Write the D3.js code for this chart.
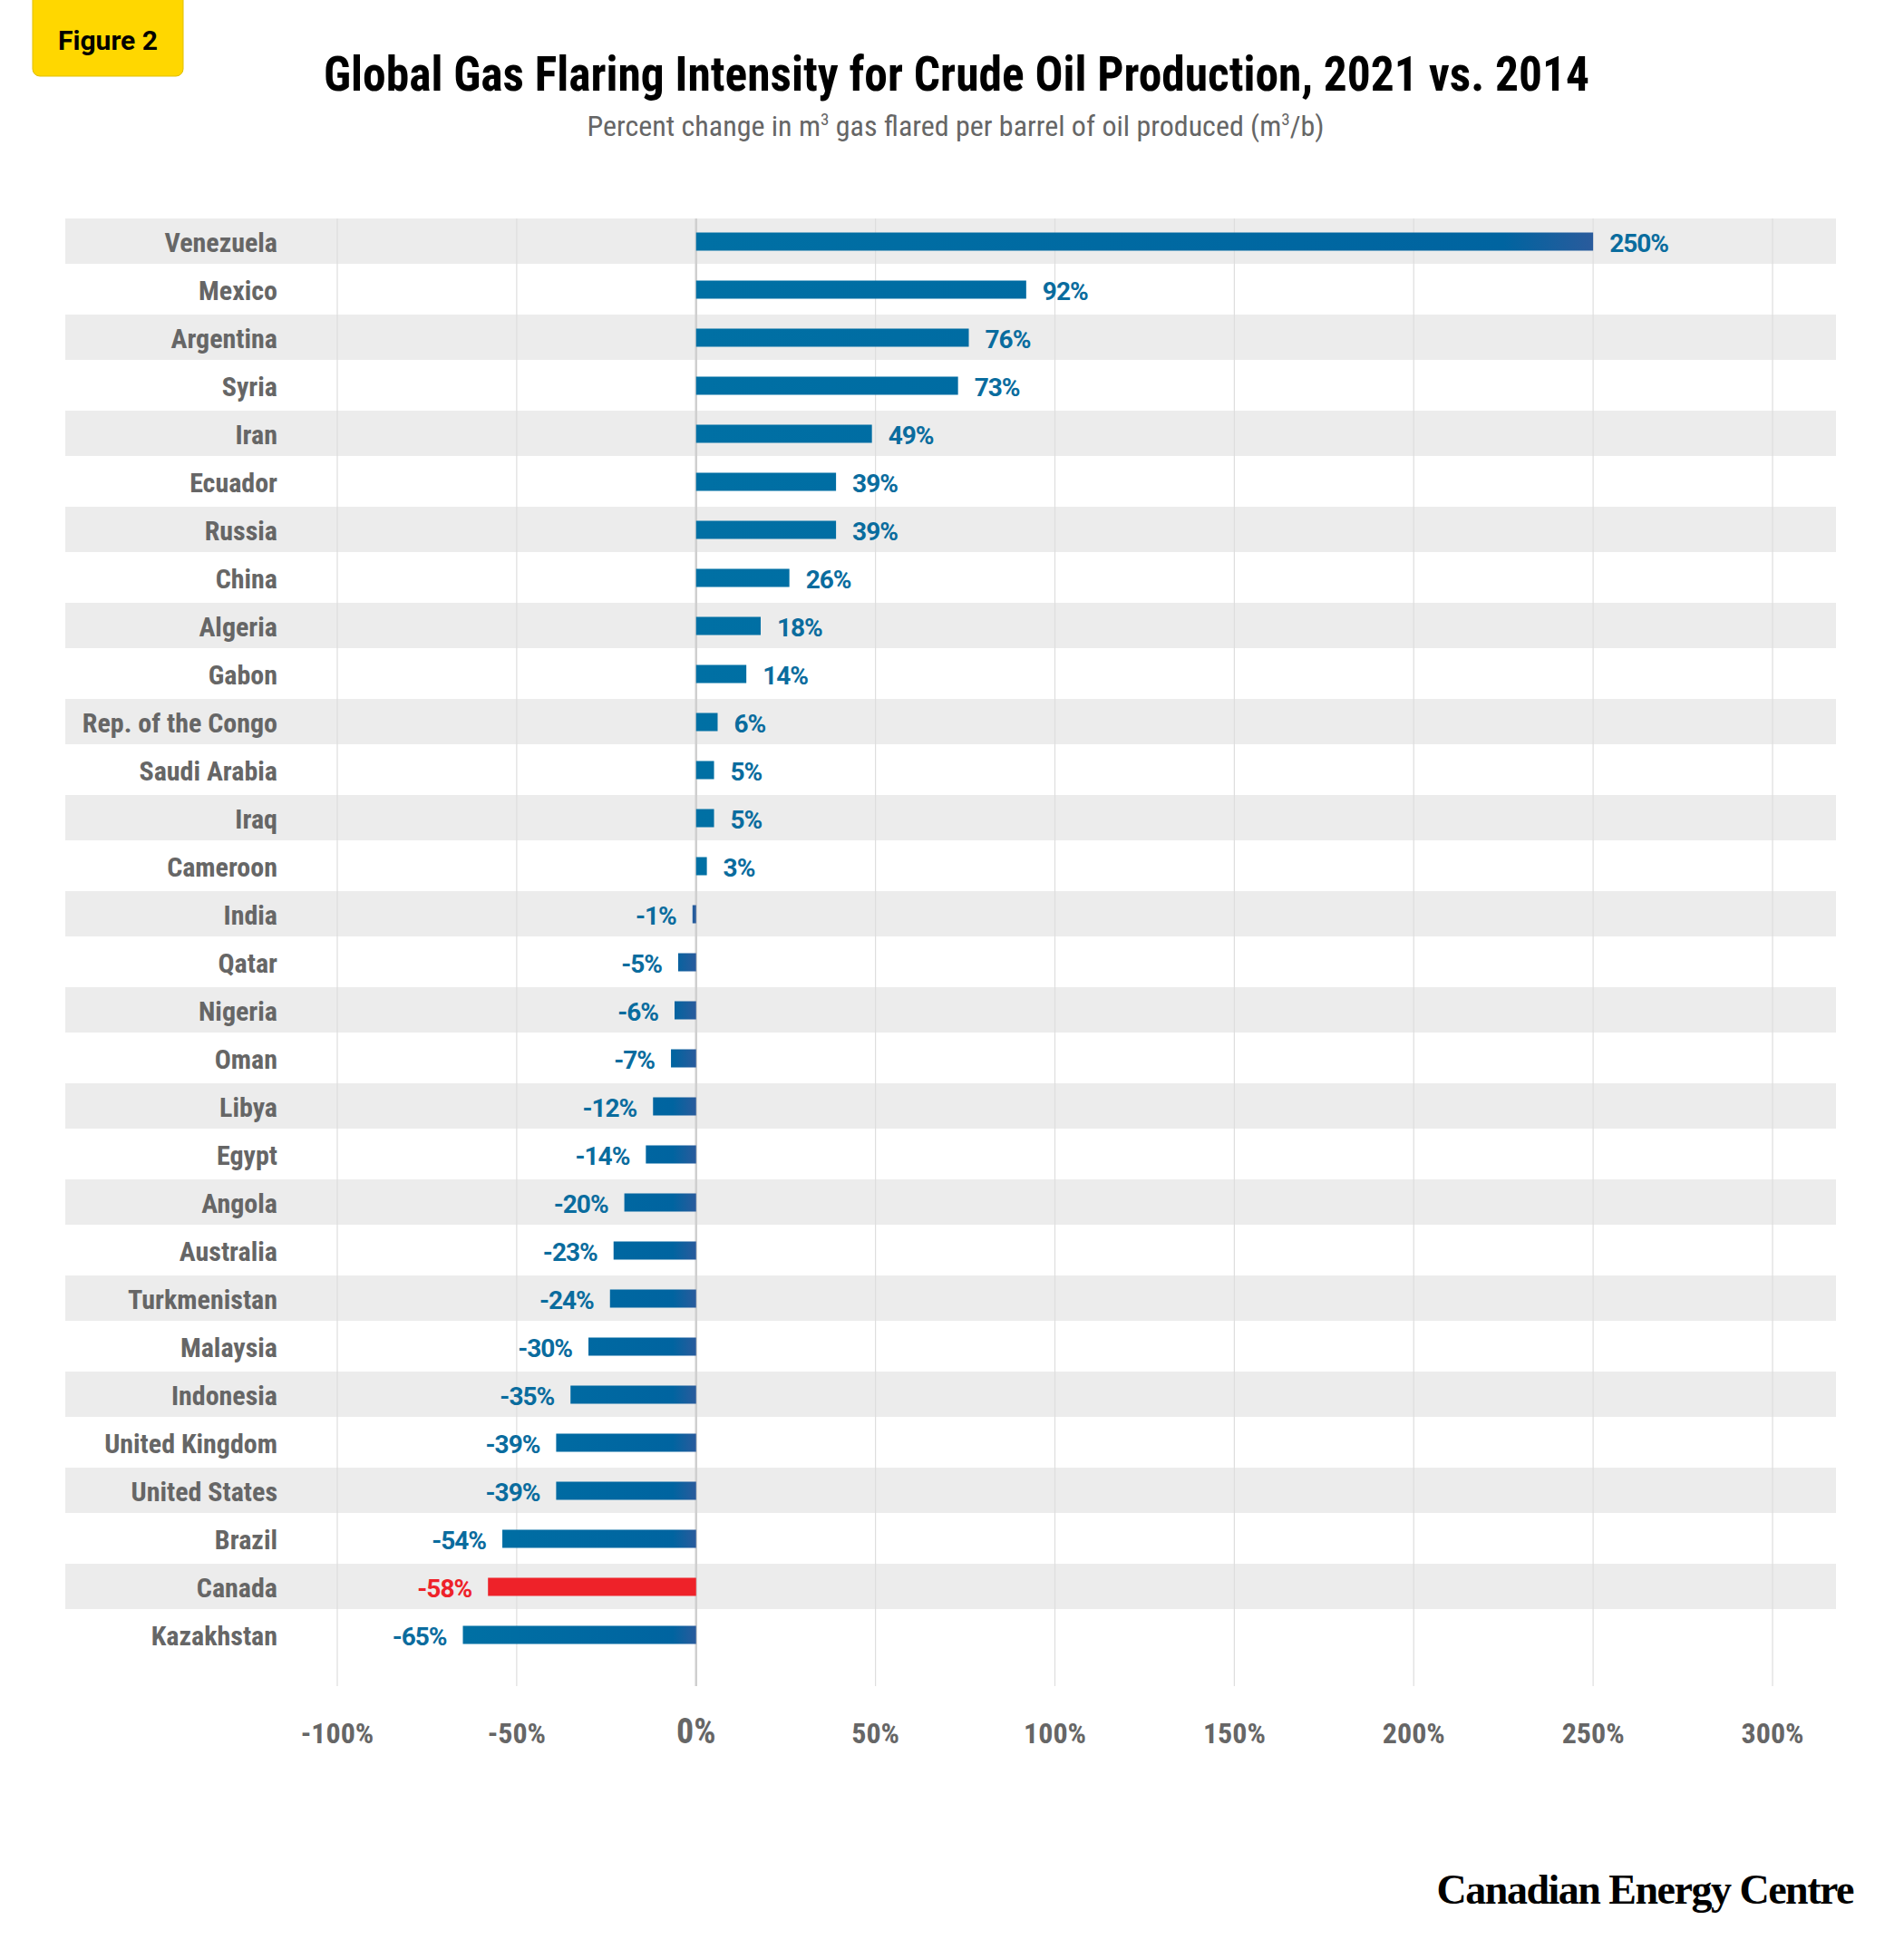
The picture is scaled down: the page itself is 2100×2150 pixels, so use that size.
<!DOCTYPE html>
<html><head><meta charset="utf-8">
<script src="https://cdn.jsdelivr.net/npm/d3@7"></script>
<style>body{margin:0;background:#fff}</style></head>
<body><svg id="c" width="2100" height="2150"></svg>
<script>
const countries=["Venezuela","Mexico","Argentina","Syria","Iran","Ecuador","Russia","China","Algeria","Gabon","Rep. of the Congo","Saudi Arabia","Iraq","Cameroon","India","Qatar","Nigeria","Oman","Libya","Egypt","Angola","Australia","Turkmenistan","Malaysia","Indonesia","United Kingdom","United States","Brazil","Canada","Kazakhstan"];
const values=[250,92,76,73,49,39,39,26,18,14,6,5,5,3,-1,-5,-6,-7,-12,-14,-20,-23,-24,-30,-35,-39,-39,-54,-58,-65];
const ticks=[-100,-50,0,50,100,150,200,250,300];
const highlight="Canada";

const svg=d3.select("#c");
const cond="'Liberation Sans Narrow','Roboto Condensed','DejaVu Sans Condensed',sans-serif";
const x=d3.scaleLinear().domain([-100,300]).range([372,1955]);
const y=d3.scaleBand().domain(countries).range([241,1831]);
const defs=svg.append("defs");
function grad(id,x1,x2){
 const g=defs.append("linearGradient").attr("id",id).attr("gradientUnits","userSpaceOnUse").attr("x1",x1).attr("x2",x2);
 g.append("stop").attr("offset","0").attr("stop-color","#0070a4");
 g.append("stop").attr("offset","0.9").attr("stop-color","#0064a0");
 g.append("stop").attr("offset","1").attr("stop-color","#2a5b9c");
}
grad("gp",x(0),x(250));
grad("gn",x(-65),x(0));

svg.selectAll("rect.band").data(countries.filter((d,i)=>i%2==0)).join("rect")
 .attr("x",72).attr("width",1953).attr("y",d=>y(d)).attr("height",y.bandwidth()-3).attr("fill","#ececec");
svg.selectAll("line.g").data(ticks).join("line")
 .attr("x1",d=>x(d)).attr("x2",d=>x(d)).attr("y1",241).attr("y2",1860)
 .attr("stroke",d=>d===0?"#cfcfcf":"#dedede").attr("stroke-width",d=>d===0?2.5:1.2);
svg.selectAll("text.t").data(ticks).join("text")
 .attr("x",d=>x(d)).attr("y",1923).attr("text-anchor","middle")
 .attr("font-family",cond).attr("font-size",d=>d===0?38:32).attr("font-weight","bold").attr("fill","#666")
 .text(d=>d+"%");
const bh=20;
svg.selectAll("rect.b").data(countries).join("rect")
 .attr("x",(d,i)=>x(Math.min(0,values[i]))).attr("width",(d,i)=>Math.abs(x(values[i])-x(0)))
 .attr("y",d=>y(d)+y.bandwidth()/2-bh/2-1).attr("height",bh)
 .attr("fill",(d,i)=>d===highlight?"#ee2229":(values[i]>=0?"url(#gp)":"url(#gn)"));
svg.selectAll("text.v").data(countries).join("text")
 .attr("x",(d,i)=>values[i]>=0?x(values[i])+18:x(values[i])-18)
 .attr("y",d=>y(d)+y.bandwidth()/2+10)
 .attr("text-anchor",(d,i)=>values[i]>=0?"start":"end")
 .attr("font-family","Roboto,'Open Sans',sans-serif").attr("font-weight","bold").attr("font-size",28)
 .attr("letter-spacing",-1)
 .attr("fill",d=>d===highlight?"#ee2229":"#0a6c9e").text((d,i)=>values[i]+"%");
svg.selectAll("text.c").data(countries).join("text")
 .attr("x",306).attr("y",d=>y(d)+y.bandwidth()/2+10).attr("text-anchor","end")
 .attr("font-family",cond).attr("font-weight","bold").attr("font-size",30).attr("fill","#666").text(d=>d);
svg.append("text").attr("x",1055).attr("y",100).attr("text-anchor","middle")
 .attr("font-family",cond).attr("font-weight","bold").attr("font-size",54)
 .attr("textLength",1396).attr("lengthAdjust","spacingAndGlyphs").text("Global Gas Flaring Intensity for Crude Oil Production, 2021 vs. 2014");
const st=svg.append("text").attr("x",1054).attr("y",150).attr("text-anchor","middle")
 .attr("font-family",cond).attr("font-size",32).attr("fill","#666");
st.append("tspan").text("Percent change in m");
st.append("tspan").attr("dy",-12).attr("font-size",19).text("3");
st.append("tspan").attr("dy",12).text(" gas flared per barrel of oil produced (m");
st.append("tspan").attr("dy",-12).attr("font-size",19).text("3");
st.append("tspan").attr("dy",12).text("/b)");
svg.append("rect").attr("x",36).attr("y",-10).attr("width",166).attr("height",94).attr("rx",8)
 .attr("fill","#ffd700").attr("stroke","#e0bf00");
svg.append("text").attr("x",119).attr("y",55).attr("text-anchor","middle")
 .attr("font-family","Roboto,sans-serif").attr("font-weight","bold").attr("font-size",30).text("Figure 2");
svg.append("text").attr("x",2044).attr("y",2100).attr("text-anchor","end")
 .attr("font-family","'Liberation Serif','DejaVu Serif',serif").attr("font-weight","bold").attr("font-size",46)
 .attr("letter-spacing",-1.5).text("Canadian Energy Centre");
</script></body></html>
